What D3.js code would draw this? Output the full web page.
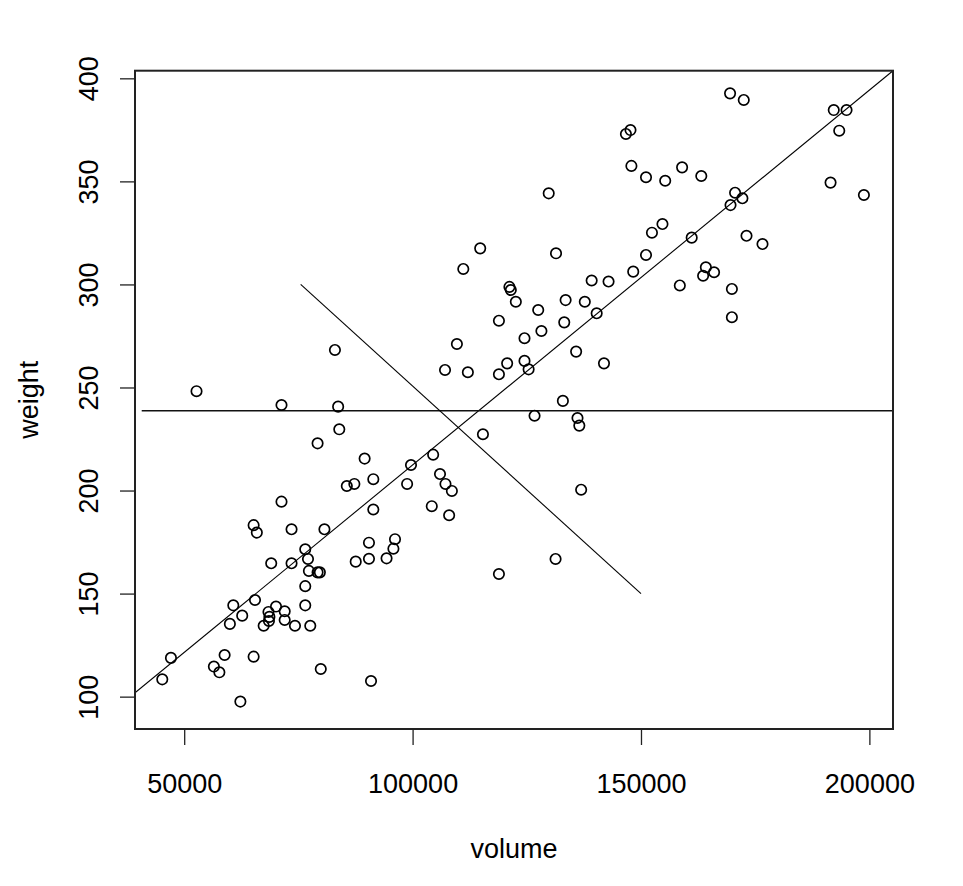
<!DOCTYPE html>
<html>
<head>
<meta charset="utf-8">
<script src="https://cdn.jsdelivr.net/npm/d3@7/dist/d3.min.js"></script>
<style>
  html, body { margin: 0; padding: 0; background: #fff; }
  svg text { font-family: "Liberation Sans", Arial, Helvetica, sans-serif; fill: #000; }
</style>
</head>
<body>
<svg id="chart" width="963" height="886"></svg>
<script>
// ---- data ----
const volume = [
  169500,172500,147700,146700,192200,195000,193400,147900,129800,191500,
  198800,170600,172200,169600,173100,176600,161100,159000,163200,151100,
  155300,154700,152400,151100,148300,164200,163600,166000,158500,169900,
  169900,114800,111100,131400,121200,121500,139200,142900,122600,133500,
  137700,127500,140300,118900,133200,128200,124500,109700,135800,141900,
  120700,124500,125400,107100,112100,118900,132900,126700,136100,136500,
  115400,104500,99650,106000,98800,107200,108600,136900,104200,108000,
  96150,95800,94300,118900,131300,83000,52700,71300,83700,83950,
  79200,89500,91400,85600,87250,71300,91400,65200,65900,73500,
  80700,90450,76500,77100,87550,90450,69050,73500,77300,79200,
  79700,76500,65500,60750,62700,60000,70100,72000,68450,68650,
  68550,72000,67400,74250,77600,76500,47100,45200,58850,56500,
  57700,65200,79900,90900,62300
];
const weight = [
  392.7,389.5,374.9,373.0,384.6,384.6,374.6,357.5,344.2,349.4,
  343.4,344.5,341.8,338.5,323.6,319.6,322.7,356.8,352.6,352.0,
  350.3,329.3,325.1,314.3,306.2,308.3,304.2,305.9,299.5,297.8,
  284.1,317.5,307.5,315.1,298.8,297.3,301.9,301.4,291.6,292.4,
  291.6,287.6,286.0,282.4,281.6,277.4,273.9,271.1,267.4,261.7,
  261.7,262.9,258.8,258.5,257.4,256.4,243.5,236.3,235.2,231.5,
  227.3,217.4,212.4,208.0,203.2,203.2,199.8,200.4,192.4,188.0,
  176.4,171.8,167.1,159.5,166.8,268.2,248.2,241.5,240.7,229.7,
  222.9,215.5,205.5,202.2,203.2,194.6,190.8,183.2,179.6,181.2,
  181.2,174.7,171.5,166.8,165.5,166.9,164.7,164.7,161.0,160.3,
  160.3,153.6,146.9,144.3,139.3,135.3,143.7,141.4,141.1,138.7,
  136.7,137.2,134.4,134.4,134.4,144.3,118.8,108.4,120.2,114.6,
  111.8,119.4,113.4,107.6,97.6
];
const xTicks = [50000, 100000, 150000, 200000];
const yTicks = [100, 150, 200, 250, 300, 350, 400];
const xLabel = "volume";
const yLabel = "weight";
// fitted line weight = a + b * volume
const fitIntercept = 30.5;
const fitSlope = 0.001819;
// horizontal reference line (mean weight)
const hLineWeight = 238.7;
const hLineStart = 40700;
// crossing segment
const crossSeg = [[75500, 300], [150000, 150]];
// axis limits
const xDomain = [39230, 205170];
const yDomain = [84.3, 403.7];

// ---- layout ----
const svg = d3.select("#chart");
const plot = { left: 135, right: 893, top: 70.7, bottom: 729 };

const x = d3.scaleLinear().domain(xDomain).range([plot.left, plot.right]);
const y = d3.scaleLinear().domain(yDomain).range([plot.bottom, plot.top]);

svg.append("rect").attr("width", 963).attr("height", 886).attr("fill", "#fff");

svg.append("defs").append("clipPath").attr("id", "clip")
  .append("rect")
  .attr("x", plot.left).attr("y", plot.top)
  .attr("width", plot.right - plot.left).attr("height", plot.bottom - plot.top);

const g = svg.append("g").attr("clip-path", "url(#clip)");

// regression line across the plot region
const lineGen = d3.line().x(d => x(d[0])).y(d => y(d[1]));
g.append("path")
  .attr("d", lineGen([[xDomain[0], fitIntercept + fitSlope * xDomain[0]],
                      [xDomain[1], fitIntercept + fitSlope * xDomain[1]]]))
  .attr("fill", "none").attr("stroke", "#000").attr("stroke-width", 1.1);

// horizontal line
g.append("path")
  .attr("d", lineGen([[hLineStart, hLineWeight], [xDomain[1], hLineWeight]]))
  .attr("fill", "none").attr("stroke", "#111").attr("stroke-width", 1.6);

// crossing segment
g.append("path")
  .attr("d", lineGen(crossSeg))
  .attr("fill", "none").attr("stroke", "#000").attr("stroke-width", 1.1);

// points
const pts = volume.map((v, i) => ({ v, w: weight[i] }));
g.selectAll("circle.pt").data(pts).enter().append("circle")
  .attr("class", "pt")
  .attr("cx", d => x(d.v)).attr("cy", d => y(d.w))
  .attr("r", 5.2)
  .attr("fill", "none").attr("stroke", "#000").attr("stroke-width", 1.7);

// frame
svg.append("rect")
  .attr("x", plot.left).attr("y", plot.top)
  .attr("width", plot.right - plot.left).attr("height", plot.bottom - plot.top)
  .attr("fill", "none").attr("stroke", "#222").attr("stroke-width", 2);

// x axis
const xAxis = d3.axisBottom(x).tickValues(xTicks).tickSize(16).tickPadding(30)
  .tickFormat(d3.format("d"));
const gx = svg.append("g").attr("transform", `translate(0,${plot.bottom})`).call(xAxis);
gx.select(".domain").remove();
gx.selectAll(".tick line").attr("stroke", "#222").attr("stroke-width", 1.3);
gx.selectAll(".tick text")
  .attr("font-size", 27).attr("fill", "#000")
  .attr("font-family", "'Liberation Sans', Arial, sans-serif")
  .attr("dy", null).attr("y", 63.5);

// y axis (labels rotated as in R)
const yAxis = d3.axisLeft(y).tickValues(yTicks).tickSize(15).tickFormat(d3.format("d"));
const gy = svg.append("g").attr("transform", `translate(${plot.left},0)`).call(yAxis);
gy.select(".domain").remove();
gy.selectAll(".tick line").attr("stroke", "#222").attr("stroke-width", 1.3);
gy.selectAll(".tick text")
  .attr("font-size", 27).attr("fill", "#000")
  .attr("font-family", "'Liberation Sans', Arial, sans-serif")
  .attr("x", null).attr("dy", null)
  .attr("text-anchor", "middle")
  .attr("transform", "translate(-36.7,0) rotate(-90)");

// axis titles
svg.append("text")
  .attr("x", (plot.left + plot.right) / 2).attr("y", 858)
  .attr("text-anchor", "middle").attr("font-size", 27)
  .text(xLabel);
svg.append("text")
  .attr("transform", `translate(38.3,${(plot.top + plot.bottom) / 2}) rotate(-90)`)
  .attr("text-anchor", "middle").attr("font-size", 27)
  .text(yLabel);
</script>
</body>
</html>
